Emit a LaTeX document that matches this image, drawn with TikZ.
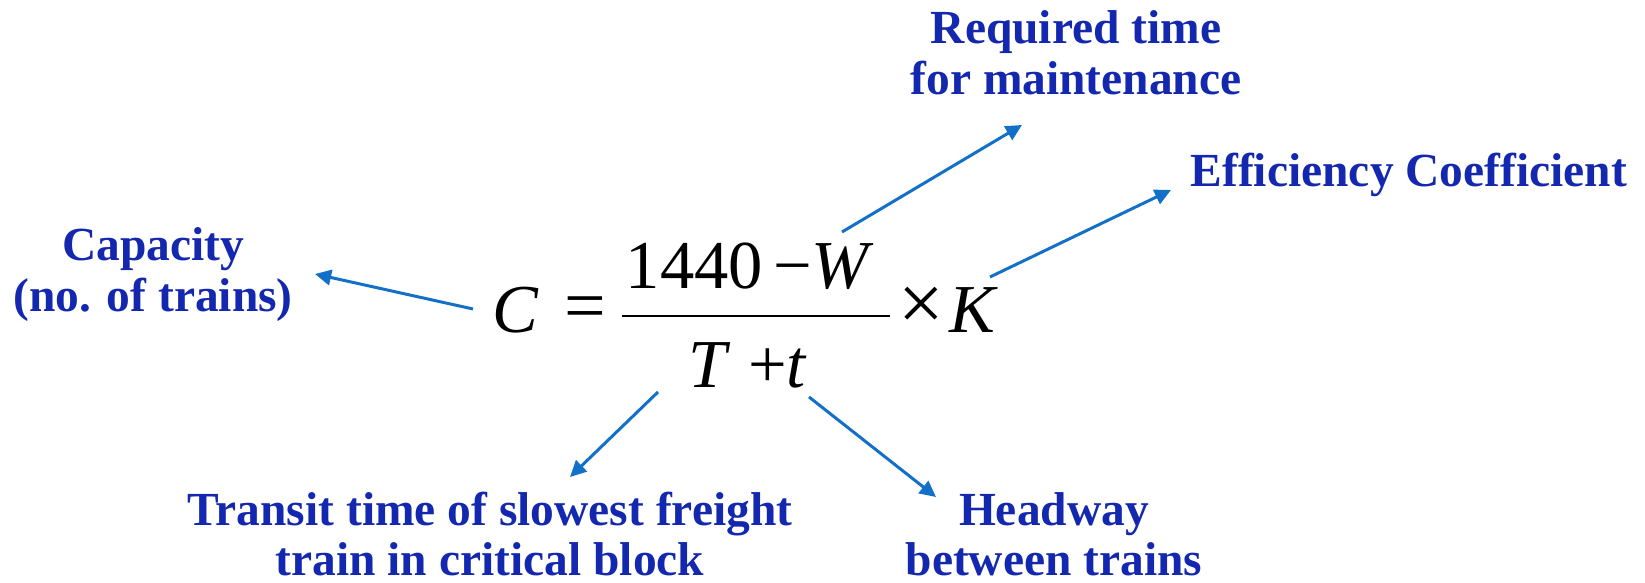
\documentclass[tikz,border=0pt]{standalone}
\usepackage{fontspec}
\setmainfont{Liberation Serif}
\usetikzlibrary{arrows.meta}
\definecolor{labelblue}{RGB}{20,40,175}
\definecolor{arrowblue}{RGB}{18,112,200}

\begin{document}
\begin{tikzpicture}[x=0.01cm, y=-0.01cm, >={Triangle[length=4.6pt,width=4.4pt]}]
  \tikzstyle{note}=[text=labelblue, font=\fontsize{13.5}{14.5}\selectfont\bfseries, align=center, inner sep=0pt]
  \tikzstyle{eqn}=[font=\fontsize{19.5}{20}\selectfont, inner sep=0pt]
  \tikzstyle{arr}=[->, draw=arrowblue, line width=0.85pt]
  \useasboundingbox (0,0) rectangle (1645,583);
  % labels (base = last line)
  \node[note, anchor=base] (cap) at (153,312) {Capacity\\(no. of trains)};
  \node[note, anchor=base] (maint) at (1076,95) {Required time\\for maintenance};
  \node[note, anchor=base west] (eff) at (1190,187) {Efficiency Coefficient};
  \node[note, anchor=base] (transit) at (490,576) {Transit time of slowest freight\\train in critical block};
  \node[note, anchor=base] (headway) at (1054,576) {Headway\\between trains};
  % formula
  \node[eqn, anchor=base west] (C) at (492,333) {\textit{C}};
  \node[eqn, font=\fontsize{21}{22}\selectfont] (eq) at (585,314) {=};
  \node[eqn, anchor=base] (num) at (750,289) {1440\hspace{0.15em}−\textit{W}};
  \node[eqn, anchor=base] (den) at (748,388) {\textit{T}\hspace{0.25em}+\textit{t}};
  \draw[line width=0.75pt] (622,316) -- (890,316);
  \node[eqn, font=\fontsize{23}{24}\selectfont] (times) at (921,309) {×};
  \node[eqn, anchor=base west] (K) at (949,333) {\textit{K}};
  % arrow ends
  \coordinate (capFrom) at (473,309);
  \coordinate (capTo) at (315,274);
  \coordinate (maintFrom) at (842,232);
  \coordinate (maintTo) at (1022,125);
  \coordinate (effFrom) at (990,277);
  \coordinate (effTo) at (1171,190);
  \coordinate (transitFrom) at (658,392);
  \coordinate (transitTo) at (570,477);
  \coordinate (headwayFrom) at (809,397);
  \coordinate (headwayTo) at (936,497);
  \draw[arr] (capFrom) -- (capTo);
  \draw[arr] (maintFrom) -- (maintTo);
  \draw[arr] (effFrom) -- (effTo);
  \draw[arr] (transitFrom) -- (transitTo);
  \draw[arr] (headwayFrom) -- (headwayTo);
\end{tikzpicture}
\end{document}
